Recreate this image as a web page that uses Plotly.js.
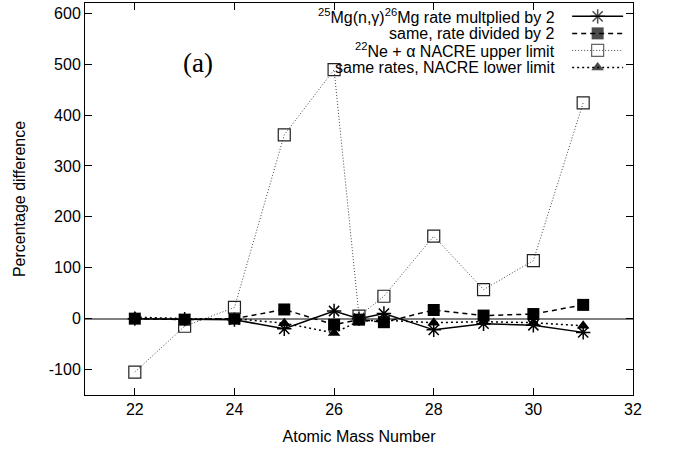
<!DOCTYPE html>
<html>
<head>
<meta charset="utf-8">
<script src="https://cdn.plot.ly/plotly-3.0.1.min.js"></script>
<style>
  html, body { margin: 0; padding: 0; background: #fff; }
  #plot { width: 673px; height: 450px; }
</style>
</head>
<body>
<div id="plot"></div>
<script>
// Atomic mass numbers of the isotopes that were compared
const massNumber = [22, 23, 24, 25, 26, 26.5, 27, 28, 29, 30, 31];

// Percentage difference in the final abundances for each rate change
const mgRateTimes2 = [0, -1, -2, -20, 15, 0, 10, -22, -10, -13, -27];
const mgRateDiv2   = [0, -2, 0, 18, -12, -2, -7, 17, 6, 9, 27];
const neUpper      = [-105, -15, 22, 361, 489, 5, 44, 162, 57, 114, 424];
const neLower      = [3, 0, 0, -9, -28, -5, -3, -8, -6, -8, -14];

const seriesNames = [
  '<sup>25</sup>Mg(n,γ)<sup>26</sup>Mg rate multplied by 2',
  'same, rate divided by 2',
  '<sup>22</sup>Ne + α NACRE upper limit',
  'same rates, NACRE lower limit'
];

const xTicks = [22, 24, 26, 28, 30, 32];
const yTicks = [-100, 0, 100, 200, 300, 400, 500, 600];

const FONT = 'Liberation Sans, Arial, Helvetica, sans-serif';

// Line and marker styles, one per series
const styles = [
  { line: { color: '#000', width: 1.5, dash: 'solid' },
    marker: { symbol: 'asterisk-open', size: 12, color: '#000', line: { color: '#000', width: 1.5 } } },
  { line: { color: '#000', width: 1.5, dash: '5px,4px' },
    marker: { symbol: 'square', size: 12, color: '#000', line: { color: '#000', width: 0 } } },
  { line: { color: '#444', width: 1, dash: '1px,2px' },
    marker: { symbol: 'square-open', size: 12, color: '#222', line: { color: '#222', width: 1.2 } } },
  { line: { color: '#000', width: 1.5, dash: '2px,3px' },
    marker: { symbol: 'triangle-up', size: 11, color: '#000', line: { color: '#000', width: 0 } } }
];

const seriesValues = [mgRateTimes2, mgRateDiv2, neUpper, neLower];

const traces = seriesValues.map((vals, i) => ({
  type: 'scatter',
  mode: 'lines+markers',
  x: massNumber,
  y: vals,
  name: seriesNames[i],
  line: styles[i].line,
  marker: styles[i].marker,
  showlegend: false,
  hoverinfo: 'x+y'
}));

// Key drawn in the gnuplot style: right-aligned text, sample to its right
const key = { textRight: 0.861, lineLeft: 0.889, lineRight: 0.982, top: 0.966, step: 0.0435 };
const keyMid = (key.lineLeft + key.lineRight) / 2;
const keyRows = seriesNames.map((_, i) => key.top - i * key.step);

const annotations = seriesNames.map((name, i) => ({
  xref: 'paper', yref: 'paper',
  x: key.textRight, y: keyRows[i],
  xanchor: 'right', yanchor: 'middle',
  text: name, showarrow: false,
  font: { family: FONT, size: 16, color: '#000' }
}));

annotations.push({
  xref: 'paper', yref: 'paper', x: 0.206, y: 0.846,
  xanchor: 'center', yanchor: 'middle',
  text: '(a)', showarrow: false,
  font: { family: 'Liberation Serif, Times New Roman, serif', size: 27, color: '#000' }
});

const shapes = seriesNames.map((_, i) => ({
  type: 'line', xref: 'paper', yref: 'paper',
  x0: key.lineLeft, x1: key.lineRight, y0: keyRows[i], y1: keyRows[i],
  line: styles[i].line
}));

traces.push({
  type: 'scatter', mode: 'markers',
  xaxis: 'x2', yaxis: 'y2',
  x: keyRows.map(() => keyMid),
  y: keyRows,
  marker: {
    symbol: styles.map(s => s.marker.symbol),
    size: styles.map(s => s.marker.size),
    color: styles.map(s => s.marker.color),
    line: { color: styles.map(s => s.marker.line.color), width: styles.map(s => s.marker.line.width) }
  },
  showlegend: false, hoverinfo: 'skip', cliponaxis: false
});

const layout = {
  width: 673, height: 450,
  margin: { l: 85, r: 40, t: 3, b: 55 },
  paper_bgcolor: '#fff', plot_bgcolor: '#fff',
  font: { family: FONT, size: 16, color: '#000' },
  showlegend: false,
  xaxis: {
    range: [21, 32],
    tickvals: xTicks, ticktext: xTicks.map(String),
    ticks: 'inside', ticklen: 7, tickcolor: '#000', tickwidth: 1,
    showline: true, linecolor: '#000', linewidth: 1, mirror: 'ticks',
    showgrid: false, zeroline: false,
    tickfont: { family: FONT, size: 16 },
    title: { text: 'Atomic Mass Number', font: { family: FONT, size: 16 }, standoff: 13 }
  },
  yaxis: {
    range: [-150, 620],
    tickvals: yTicks, ticktext: yTicks.map(String),
    ticks: 'inside', ticklen: 7, tickcolor: '#000', tickwidth: 1,
    showline: true, linecolor: '#000', linewidth: 1, mirror: 'ticks',
    showgrid: false,
    zeroline: true, zerolinecolor: '#808080', zerolinewidth: 2,
    tickfont: { family: FONT, size: 16 },
    title: { text: 'Percentage difference', font: { family: FONT, size: 16 }, standoff: 19 }
  },
  xaxis2: { overlaying: 'x', range: [0, 1], visible: false, fixedrange: true },
  yaxis2: { overlaying: 'y', range: [0, 1], visible: false, fixedrange: true },
  annotations: annotations,
  shapes: shapes
};

Plotly.newPlot('plot', traces, layout, { displayModeBar: false, staticPlot: true });
</script>
</body>
</html>
